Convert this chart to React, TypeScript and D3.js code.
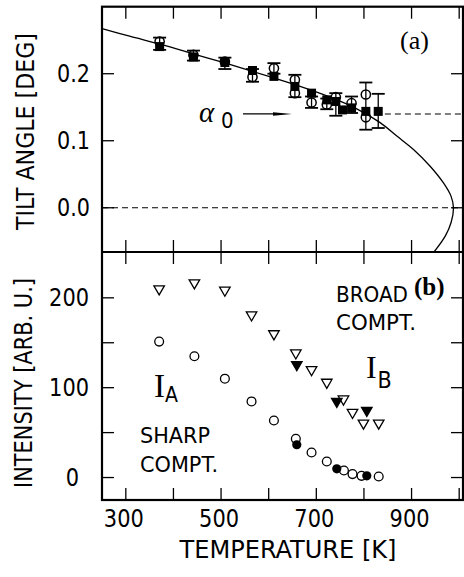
import React from "react";
import * as d3 from "d3";

const W = 464;
const H = 577;

// axis ticks
const tempTicks = [300, 400, 500, 600, 700, 800, 900, 1000];
const tempLabels = [300, 500, 700, 900];
const tiltTicks = [0, 0.1, 0.2];
const tiltLabels = ["0.0", "0.1", "0.2"];
const intTicks = [0, 50, 100, 150, 200];
const intLabels = [0, 100, 200];

// panel (a): tilt angle
const openT = [371, 442, 508, 566, 611, 655, 655, 690, 722, 741, 774, 804, 804];
const openTilt = [0.248, 0.228, 0.218, 0.195, 0.208, 0.191, 0.171, 0.157, 0.154, 0.165, 0.156, 0.169, 0.135];
const filledT = [371, 442, 508, 566, 611, 655, 690, 722, 741, 755, 774, 804, 830];
const filledTilt = [0.2405, 0.225, 0.2167, 0.2048, 0.196, 0.181, 0.171, 0.161, 0.1586, 0.146, 0.149, 0.1438, 0.1438];
const errT = [371, 442, 508, 566, 611, 655, 690, 722, 741, 774, 804, 830];
const errLo = [0.2356, 0.2196, 0.207, 0.188, 0.2, 0.165, 0.149, 0.147, 0.1373, 0.1414, 0.1165, 0.119];
const errHi = [0.2539, 0.2345, 0.224, 0.207, 0.2158, 0.1984, 0.166, 0.163, 0.171, 0.166, 0.1869, 0.17];
const fitT = [252, 308, 372, 445, 508, 609, 666, 729, 781, 834, 869, 904, 939, 967, 983, 988, 983, 971, 946];
const fitTilt = [0.267, 0.256, 0.244, 0.229, 0.216, 0.194, 0.181, 0.165, 0.149, 0.127, 0.107, 0.087, 0.062, 0.037, 0.017, 0, -0.022, -0.042, -0.067];
const alpha0 = 0.14;
const alpha0Start = 844;

// panel (b): intensities
const broadT = [370, 444, 508, 564, 611, 657, 690, 722, 757, 776, 799, 831];
const broadI = [210, 216.7, 208.5, 181, 160, 138.7, 120, 106, 87.4, 72.5, 60.6, 60.6];
const broadFT = [659, 743, 806];
const broadFI = [125.6, 84.7, 74.7];
const sharpT = [370, 444, 508, 564, 611, 657, 690, 722, 758, 776, 795, 831];
const sharpI = [151.3, 135, 110, 84.7, 63.5, 43.1, 27.9, 17.8, 7.8, 3.8, 1.9, 1.1];
const sharpFT = [659, 743, 806];
const sharpFI = [36.5, 9.7, 1.9];

const SANS = "'DejaVu Sans Condensed', 'Liberation Sans Narrow', 'DejaVu Sans', sans-serif";
const SERIF = "'Liberation Serif', 'DejaVu Serif', serif";

// squeeze text to the width it has in the original
const fit = (s: string, perChar: number, dot: number) =>
  s.split("").reduce((w, c) => w + (c === "." ? dot : perChar), 0);

export default function App() {
  const x = d3.scaleLinear().domain([250, 1008]).range([102, 463]);
  const yA = d3.scaleLinear().domain([-0.066, 0.3]).range([252, 6.7]);
  const yB = d3.scaleLinear().domain([-25, 251]).range([500, 252]);
  const [x0, x1] = x.range();
  const top = yA.range()[1];
  const mid = yA.range()[0];
  const bottom = yB.range()[0];
  const tick = 12;

  const fitLine = d3
    .line<number>()
    .x((_, i) => x(fitT[i]))
    .y((_, i) => yA(fitTilt[i]))
    .curve(d3.curveCatmullRom)(fitT);

  const tri = d3.symbol(d3.symbolTriangle, 48)() as string;
  const ay = yA(alpha0);

  return (
    <svg width={W} height={H} style={{ position: "absolute", left: 0, top: 0, background: "#fff" }}>
      <defs>
        <clipPath id="clipA">
          <rect x={x0} y={top} width={x1 - x0} height={mid - top} />
        </clipPath>
      </defs>

      {/* ticks on all panel edges */}
      <g stroke="#000" strokeWidth={1.3}>
        {tempTicks.map((t) => (
          <g key={"t" + t}>
            <line x1={x(t)} x2={x(t)} y1={top} y2={top + tick} />
            <line x1={x(t)} x2={x(t)} y1={mid - tick} y2={mid + tick} />
            <line x1={x(t)} x2={x(t)} y1={bottom - tick} y2={bottom} />
          </g>
        ))}
        {tiltTicks.map((v) => (
          <g key={"a" + v}>
            <line x1={x0} x2={x0 + tick} y1={yA(v)} y2={yA(v)} />
            <line x1={x1 - tick} x2={x1} y1={yA(v)} y2={yA(v)} />
          </g>
        ))}
        {intTicks.map((v) => (
          <g key={"b" + v}>
            <line x1={x0} x2={x0 + tick} y1={yB(v)} y2={yB(v)} />
            <line x1={x1 - tick} x2={x1} y1={yB(v)} y2={yB(v)} />
          </g>
        ))}
      </g>

      {/* panel (a) */}
      <g clipPath="url(#clipA)">
        <line x1={x0} x2={x1} y1={yA(0)} y2={yA(0)} stroke="#000" strokeWidth={1.1} strokeDasharray="6,4" />
        <line x1={x(alpha0Start)} x2={x1} y1={ay} y2={ay} stroke="#000" strokeWidth={1.1} strokeDasharray="6,4" />
        <path d={fitLine ?? ""} fill="none" stroke="#000" strokeWidth={1.3} />
      </g>
      <g stroke="#000" strokeWidth={1.3}>
        {errT.map((t, i) => (
          <g key={"e" + i}>
            <line x1={x(t)} x2={x(t)} y1={yA(errLo[i])} y2={yA(errHi[i])} />
            <line x1={x(t) - 6.5} x2={x(t) + 6.5} y1={yA(errLo[i])} y2={yA(errLo[i])} strokeWidth={1.8} />
            <line x1={x(t) - 6.5} x2={x(t) + 6.5} y1={yA(errHi[i])} y2={yA(errHi[i])} strokeWidth={1.8} />
          </g>
        ))}
      </g>
      {filledT.map((t, i) => (
        <rect key={"fs" + i} x={x(t) - 4.5} y={yA(filledTilt[i]) - 4.5} width={9} height={9} fill="#000" />
      ))}
      {openT.map((t, i) => (
        <circle key={"oc" + i} cx={x(t)} cy={yA(openTilt[i])} r={4.6} fill="none" stroke="#000" strokeWidth={1.5} />
      ))}

      {/* alpha0 arrow */}
      <line x1={243} x2={276} y1={ay} y2={ay} stroke="#000" strokeWidth={1.2} />
      <path d={`M273,${ay - 1.8} L292,${ay} L273,${ay + 1.8} Z`} fill="#000" />
      <text x={199} y={122} fontFamily={SERIF} fontStyle="italic" fontSize={29}>
        α<tspan x={221} y={128} fontFamily={SANS} fontStyle="normal" fontSize={22}>0</tspan>
      </text>
      <text x={400} y={49} fontFamily={SERIF} fontSize={26}>(a)</text>

      {/* panel (b) */}
      {broadT.map((t, i) => (
        <path key={"bt" + i} d={tri} transform={`translate(${x(t)},${yB(broadI[i])}) rotate(180)`} fill="#fff" stroke="#000" strokeWidth={1.3} />
      ))}
      {broadFT.map((t, i) => (
        <path key={"bf" + i} d={tri} transform={`translate(${x(t)},${yB(broadFI[i])}) rotate(180)`} fill="#000" stroke="#000" strokeWidth={1.3} />
      ))}
      {sharpT.map((t, i) => (
        <circle key={"sc" + i} cx={x(t)} cy={yB(sharpI[i])} r={4.4} fill="#fff" stroke="#000" strokeWidth={1.3} />
      ))}
      {sharpFT.map((t, i) => (
        <circle key={"sf" + i} cx={x(t)} cy={yB(sharpFI[i])} r={4.6} fill="#000" />
      ))}

      <g fontFamily={SANS} fontSize={22} fill="#000">
        <text x={336} y={301.5} textLength={72} lengthAdjust="spacingAndGlyphs">BROAD</text>
        <text x={336} y={330} textLength={80} lengthAdjust="spacingAndGlyphs">COMPT.</text>
        <text x={140} y={443} textLength={70} lengthAdjust="spacingAndGlyphs">SHARP</text>
        <text x={140} y={471.5} textLength={78} lengthAdjust="spacingAndGlyphs">COMPT.</text>
      </g>
      <text x={154} y={396.7} fontFamily={SERIF} fontSize={33}>
        I<tspan x={165} y={401.7} fontFamily={SANS} fontSize={21}>A</tspan>
      </text>
      <text x={366} y={378.3} fontFamily={SERIF} fontSize={32}>
        I<tspan x={377.5} y={387.7} fontFamily={SANS} fontSize={23}>B</tspan>
      </text>
      <text x={414} y={295} fontFamily={SERIF} fontWeight="bold" fontSize={25}>(b)</text>

      {/* frame */}
      <rect x={x0} y={top} width={x1 - x0} height={bottom - top} fill="none" stroke="#000" strokeWidth={2.2} />
      <line x1={x0} x2={x1} y1={mid} y2={mid} stroke="#000" strokeWidth={2} />

      {/* tick labels */}
      <g fontFamily={SANS} fontSize={24} fill="#000">
        {tiltTicks.map((v, i) => (
          <text key={"la" + v} x={90} y={yA(v)} dy="0.36em" textAnchor="end" textLength={fit(tiltLabels[i], 13.3, 6.4)} lengthAdjust="spacingAndGlyphs">
            {tiltLabels[i]}
          </text>
        ))}
        {intLabels.map((v) => (
          <text key={"lb" + v} x={v === 0 ? 79 : 89} y={yB(v)} dy="0.36em" textAnchor="end" textLength={fit(String(v), 13.3, 6.4)} lengthAdjust="spacingAndGlyphs">
            {v}
          </text>
        ))}
        {tempLabels.map((t) => (
          <text key={"lt" + t} x={x(t) - 2} y={526.5} textAnchor="middle" textLength={fit(String(t), 13.3, 6.4)} lengthAdjust="spacingAndGlyphs">
            {t}
          </text>
        ))}
      </g>

      {/* axis titles */}
      <g fontFamily={SANS} fontSize={24} fill="#000">
        <text x={288} y={558} textAnchor="middle" textLength={217} lengthAdjust="spacingAndGlyphs">TEMPERATURE [K]</text>
        <text transform="translate(34,131.5) rotate(-90)" textAnchor="middle" textLength={197} lengthAdjust="spacingAndGlyphs">TILT ANGLE [DEG]</text>
        <text transform="translate(32,383) rotate(-90)" textAnchor="middle" textLength={210} lengthAdjust="spacingAndGlyphs">INTENSITY [ARB. U.]</text>
      </g>
    </svg>
  );
}
